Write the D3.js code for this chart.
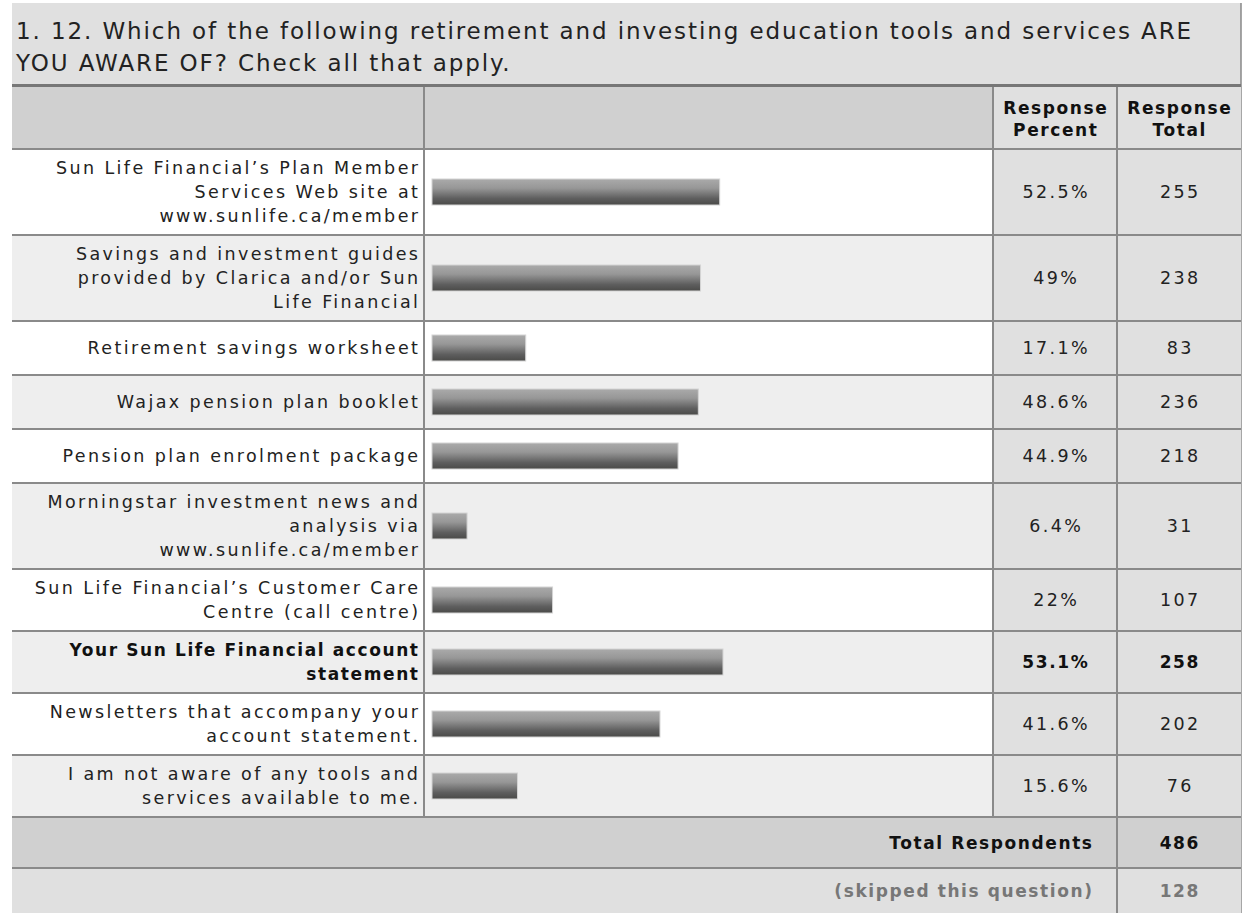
<!DOCTYPE html>
<html><head><meta charset="utf-8">
<script src="https://cdn.jsdelivr.net/npm/d3@7/dist/d3.min.js"></script>
<style>
html,body{margin:0;padding:0;background:#fff;}
svg{display:block;font-family:"DejaVu Sans",Verdana,sans-serif;}
</style></head>
<body><svg id="chart" width="1249" height="913"></svg>
<script>
const titleLines = ["1. 12. Which of the following retirement and investing education tools and services ARE",
                    "YOU AWARE OF? Check all that apply."];
const categories = [
  ["Sun Life Financial\u2019s Plan Member","Services Web site at","www.sunlife.ca/member"],
  ["Savings and investment guides","provided by Clarica and/or Sun","Life Financial"],
  ["Retirement savings worksheet"],
  ["Wajax pension plan booklet"],
  ["Pension plan enrolment package"],
  ["Morningstar investment news and","analysis via","www.sunlife.ca/member"],
  ["Sun Life Financial\u2019s Customer Care","Centre (call centre)"],
  ["Your Sun Life Financial account","statement"],
  ["Newsletters that accompany your","account statement."],
  ["I am not aware of any tools and","services available to me."]
];
const responsePercent = [52.5, 49, 17.1, 48.6, 44.9, 6.4, 22, 53.1, 41.6, 15.6];
const responseTotal = [255, 238, 83, 236, 218, 31, 107, 258, 202, 76];
const boldRows = [7];
const headerLabels = [["Response","Percent"],["Response","Total"]];
const totalRespondents = 486;
const skippedCount = 128;

const svg = d3.select("#chart");
const L = 12, R = 1241, cBar = 424, cPct = 993, cTot = 1117;
const FS = 17.5, FSB = 17, LS = 2.4, LSB = 1.6;

// title
svg.append("rect").attr("x", L).attr("y", 3).attr("width", R - L).attr("height", 82).attr("fill", "#e0e0e0");
svg.append("line").attr("x1", R).attr("x2", R).attr("y1", 3).attr("y2", 913).attr("stroke", "#888").attr("stroke-width", 1.5);
titleLines.forEach((t, i) => {
  svg.append("text").attr("x", 16).attr("y", 39 + i * 32).attr("font-size", 23).attr("letter-spacing", "1.9px")
    .attr("fill", "#222").text(t);
});

// header
const headTop = 86, headBot = 149;
svg.append("rect").attr("x", L).attr("y", headTop).attr("width", cPct - L).attr("height", headBot - headTop).attr("fill", "#d0d0d0");
svg.append("rect").attr("x", cPct).attr("y", headTop).attr("width", R - cPct).attr("height", headBot - headTop).attr("fill", "#e0e0e0");
[[cPct, cTot], [cTot, R]].forEach((c, j) => {
  headerLabels[j].forEach((t, i) => {
    svg.append("text").attr("x", (c[0] + c[1]) / 2 + LSB / 2).attr("y", 114 + i * 22).attr("text-anchor", "middle")
      .attr("font-size", FSB).attr("font-weight", "bold").attr("letter-spacing", LSB + "px").attr("fill", "#111").text(t);
  });
});

// rows layout
const lineH = 24;
const heights = categories.map(c => Math.max(54, c.length * lineH + 14));
const tops = [];
let acc = headBot;
heights.forEach(h => { tops.push(acc); acc += h; });
const rowsBottom = acc;

const x = d3.scaleLinear().domain([0, 100]).range([0, 548]);

const defs = svg.append("defs");
const grad = defs.append("linearGradient").attr("id", "barGrad").attr("x1", 0).attr("x2", 0).attr("y1", 0).attr("y2", 1);
[[0, "#aaaaaa"], [0.35, "#979797"], [0.75, "#5e5e5e"], [1, "#4a4a48"]].forEach(s =>
  grad.append("stop").attr("offset", s[0]).attr("stop-color", s[1]));

const rows = svg.append("g").selectAll("g").data(categories).join("g")
  .attr("transform", (d, i) => `translate(0,${tops[i]})`);

rows.append("rect").attr("x", L).attr("y", 0).attr("width", cPct - L).attr("height", (d, i) => heights[i])
  .attr("fill", (d, i) => i % 2 ? "#eeeeee" : "#ffffff");
rows.append("rect").attr("x", cPct).attr("y", 0).attr("width", R - cPct).attr("height", (d, i) => heights[i])
  .attr("fill", "#e0e0e0");

rows.each(function(d, i) {
  const g = d3.select(this);
  const h = heights[i];
  const bold = boldRows.includes(i);
  const n = d.length;
  const fs = bold ? FSB : FS, ls = bold ? LSB : LS;
  const fill = bold ? "#111" : "#222";
  d.forEach((t, k) => {
    g.append("text").attr("x", 418 + ls).attr("y", h / 2 + (k - (n - 1) / 2) * lineH + 6)
      .attr("text-anchor", "end").attr("font-size", fs).attr("font-weight", bold ? "bold" : "normal")
      .attr("letter-spacing", ls + "px").attr("fill", fill).text(t);
  });
  const bh = 26;
  g.append("rect").attr("x", 432).attr("y", h / 2 - bh / 2).attr("width", x(responsePercent[i])).attr("height", bh)
    .attr("fill", "url(#barGrad)").attr("stroke", "#d4d4d4").attr("stroke-width", 1);
  g.append("text").attr("x", (cPct + cTot) / 2 + ls / 2).attr("y", h / 2 + 6).attr("text-anchor", "middle")
    .attr("font-size", fs).attr("font-weight", bold ? "bold" : "normal").attr("letter-spacing", ls + "px")
    .attr("fill", fill).text(responsePercent[i] + "%");
  g.append("text").attr("x", (cTot + R) / 2 + ls / 2).attr("y", h / 2 + 6).attr("text-anchor", "middle")
    .attr("font-size", fs).attr("font-weight", bold ? "bold" : "normal").attr("letter-spacing", ls + "px")
    .attr("fill", fill).text(responseTotal[i]);
});

// footer rows
const totTop = rowsBottom, totBot = totTop + 51, skipBot = 913;
svg.append("rect").attr("x", L).attr("y", totTop).attr("width", R - L).attr("height", totBot - totTop).attr("fill", "#d0d0d0");
svg.append("rect").attr("x", L).attr("y", totBot).attr("width", R - L).attr("height", skipBot - totBot).attr("fill", "#e0e0e0");
svg.append("text").attr("x", 1092 + LSB).attr("y", (totTop + totBot) / 2 + 6).attr("text-anchor", "end")
  .attr("font-size", FSB).attr("font-weight", "bold").attr("letter-spacing", LSB + "px").attr("fill", "#111").text("Total Respondents");
svg.append("text").attr("x", (cTot + R) / 2 + LSB / 2).attr("y", (totTop + totBot) / 2 + 6).attr("text-anchor", "middle")
  .attr("font-size", FSB).attr("font-weight", "bold").attr("letter-spacing", LSB + "px").attr("fill", "#111").text(totalRespondents);
svg.append("text").attr("x", 1092 + LSB).attr("y", (totBot + skipBot) / 2 + 6).attr("text-anchor", "end")
  .attr("font-size", FSB).attr("font-weight", "bold").attr("letter-spacing", LSB + "px").attr("fill", "#777").text("(skipped this question)");
svg.append("text").attr("x", (cTot + R) / 2 + LSB / 2).attr("y", (totBot + skipBot) / 2 + 6).attr("text-anchor", "middle")
  .attr("font-size", FSB).attr("font-weight", "bold").attr("letter-spacing", LSB + "px").attr("fill", "#777").text(skippedCount);

// grid lines
const gl = svg.append("g").attr("stroke", "#8a8a8a").attr("stroke-width", 2);
[headBot, ...tops.slice(1), rowsBottom, totBot].forEach(y =>
  gl.append("line").attr("x1", L).attr("x2", R).attr("y1", y).attr("y2", y));
svg.append("line").attr("x1", L).attr("x2", R).attr("y1", 85.5).attr("y2", 85.5).attr("stroke", "#777").attr("stroke-width", 3);
[cBar, cPct].forEach(xx => gl.append("line").attr("x1", xx).attr("x2", xx).attr("y1", 87).attr("y2", rowsBottom));
gl.append("line").attr("x1", cTot).attr("x2", cTot).attr("y1", 87).attr("y2", 913);
</script></body></html>
